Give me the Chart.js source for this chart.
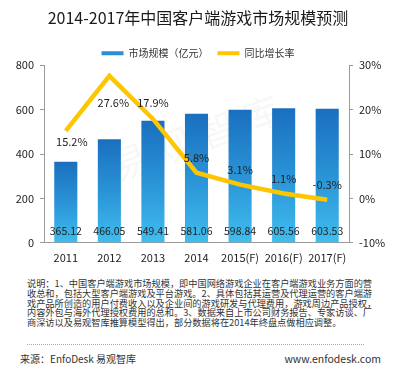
<!DOCTYPE html>
<html>
<head>
<meta charset="utf-8">
<script src="https://cdn.jsdelivr.net/npm/chart.js@4/dist/chart.umd.min.js"></script>
<style>
  body { margin: 0; background: #fff; }
  #wrap { position: relative; width: 396px; height: 371px; overflow: hidden; font-family: "Noto Sans CJK SC", sans-serif; color: #333; }
  #chartBox { position: absolute; left: 0; top: 0; width: 396px; height: 272px; }
  #notes { position: absolute; left: 27px; top: 279px; width: 337px; font-size: 9.2px; line-height: 9.8px; white-space: nowrap; }
  #notes div { text-align: justify; text-align-last: justify; }
  #notes div.last { text-align-last: left; }
  #sep { position: absolute; left: 27px; top: 344px; width: 337px; border-top: 1px dotted #aaa; }
  #src { position: absolute; left: 20px; top: 351px; font-size: 10px; }
  #web { position: absolute; right: 15px; top: 351px; font-size: 10.5px; }
</style>
</head>
<body>
<div id="wrap">
  <div id="chartBox"><canvas id="mainChart"></canvas></div>
  <div id="notes">
    <div>说明：1、中国客户端游戏市场规模，即中国网络游戏企业在客户端游戏业务方面的营</div>
    <div>收总和，包括大型客户端游戏及平台游戏。2、具体包括其运营及代理运营的客户端游</div>
    <div>戏产品所创造的用户付费收入以及企业间的游戏研发与代理费用，游戏周边产品授权，</div>
    <div>内容外包与海外代理授权费用的总和。3、数据来自上市公司财务报告、专家访谈、厂</div>
    <div class="last">商深访以及易观智库推算模型得出，部分数据将在2014年终盘点做相应调整。</div>
  </div>
  <div id="sep"></div>
  <div id="src">来源：EnfoDesk 易观智库</div>
  <div id="web">www.enfodesk.com</div>
</div>
<script>
// chart data
var years = ["2011", "2012", "2013", "2014", "2015(F)", "2016(F)", "2017(F)"];
var marketSize = [365.12, 466.05, 549.41, 581.06, 598.84, 605.56, 603.53];
var growthRate = [15.2, 27.6, 17.9, 5.8, 3.1, 1.1, -0.3];
var leftTicks = [0, 800, 200];     // min, max, step
var rightTicks = [-10, 30, 10];    // min, max, step (%)

var FONT = "'Noto Sans CJK SC', sans-serif";

// where each growth label sits relative to its point (dx, dy)
var pctOffset = [[6, 11], [4, 27], [0, -16], [0, -15], [0, -15], [0, -15], [0, -15]];

function barGradient(ctx) {
    var chart = ctx.chart;
    if (ctx.dataIndex === undefined || !chart.scales.y) return '#2a8fd6';
    var ys = chart.scales.y;
    var top = ys.getPixelForValue(marketSize[ctx.dataIndex]);
    var bot = ys.getPixelForValue(0);
    var g = chart.ctx.createLinearGradient(0, top, 0, bot);
    g.addColorStop(0, '#1a6fbf');
    g.addColorStop(0.5, '#2a93d6');
    g.addColorStop(1, '#40bdee');
    return g;
}

//Legend sits closer to the plot
var legendFit = {
    id: 'legendFit',
    beforeInit: function (chart) {
        var orig = chart.legend.fit;
        chart.legend.fit = function () {
            orig.bind(chart.legend)();
            this.height -= 3;
        };
    }
};

//Watermark + value labels
var labelPlugin = {
    id: 'labels',
    beforeDatasetsDraw: function (chart) {
        var c = chart.ctx;
        c.save();
        c.translate(195, 138);
        c.rotate(-20 * Math.PI / 180);
        c.font = "38px " + FONT;
        c.fillStyle = 'rgba(0,0,0,0.03)';
        c.textAlign = 'center';
        c.textBaseline = 'middle';
        c.fillText('易 观 智 库', 0, 0);
        c.restore();
    },
    afterDatasetsDraw: function (chart) {
        var c = chart.ctx;
        c.save();
        c.font = "10.5px " + FONT;
        c.fillStyle = '#222';
        c.textAlign = 'center';
        c.textBaseline = 'middle';
        var bars = chart.getDatasetMeta(0).data;
        var ys = chart.scales.y;
        for (var i = 0; i < bars.length; i++) {
            c.fillText(marketSize[i].toFixed(2), bars[i].x, ys.getPixelForValue(0) - 12);
        }
        var pts = chart.getDatasetMeta(1).data;
        c.font = "11px " + FONT;
        for (var j = 0; j < pts.length; j++) {
            c.fillText(growthRate[j].toFixed(1) + '%', pts[j].x + pctOffset[j][0], pts[j].y + pctOffset[j][1]);
        }
        c.restore();
    }
};

var ctx = document.getElementById('mainChart').getContext('2d');
var chart = new Chart(ctx, {
    type: 'bar',
    data: {
        labels: years,
        datasets: [{
            label: "市场规模（亿元）",
            data: marketSize,
            yAxisID: 'y',
            order: 2,
            backgroundColor: barGradient,
            barPercentage: 0.53,
            categoryPercentage: 1
        }, {
            type: 'line',
            label: "同比增长率",
            data: growthRate,
            yAxisID: 'y1',
            order: 1,
            borderColor: '#fdc600',
            backgroundColor: '#fdc600',
            borderWidth: 4.5,
            pointRadius: 0,
            tension: 0,
            borderJoinStyle: 'miter'
        }]
    },
    options: {
        responsive: true,
        maintainAspectRatio: false,
        animation: false,
        layout: { padding: { left: 0, right: 0, top: 0, bottom: 0 } },
        plugins: {
            tooltip: { enabled: false },
            title: {
                display: true,
                text: '2014-2017年中国客户端游戏市场规模预测',
                color: '#1a1a1a',
                font: { family: FONT, size: 16, weight: 'normal' },
                padding: { top: 8, bottom: 12 }
            },
            legend: {
                display: true,
                labels: {
                    boxWidth: 22,
                    boxHeight: 4,
                    padding: 9,
                    color: '#333',
                    font: { family: FONT, size: 10 },
                    generateLabels: function (ch) {
                        return [
                            { text: "市场规模（亿元）", fillStyle: '#2a8fd6', strokeStyle: '#2a8fd6', lineWidth: 0, datasetIndex: 0, fontColor: '#333' },
                            { text: "同比增长率", fillStyle: '#fdc600', strokeStyle: '#fdc600', lineWidth: 0, datasetIndex: 1, fontColor: '#333' }
                        ];
                    }
                }
            }
        },
        scales: {
            x: {
                grid: { display: false, drawTicks: false },
                border: { display: true, color: '#999', width: 1 },
                ticks: { color: '#222', font: { family: FONT, size: 11 }, padding: 8, maxRotation: 0, autoSkip: false }
            },
            y: {
                position: 'left',
                min: leftTicks[0],
                max: leftTicks[1],
                grid: { drawOnChartArea: false, color: '#999', tickLength: 4 },
                border: { color: '#999' },
                ticks: { stepSize: leftTicks[2], color: '#222', font: { family: FONT, size: 11 }, padding: 6 },
                afterFit: function (s) { s.width = 44; }
            },
            y1: {
                position: 'right',
                min: rightTicks[0],
                max: rightTicks[1],
                grid: { drawOnChartArea: false, color: '#999', tickLength: 4 },
                border: { color: '#999' },
                ticks: { stepSize: rightTicks[2], color: '#222', font: { family: FONT, size: 11 }, padding: 6,
                    callback: function (v) { return v + '%'; } },
                afterFit: function (s) { s.width = 47; }
            }
        }
    },
    plugins: [legendFit, labelPlugin]
});
</script>
</body>
</html>
